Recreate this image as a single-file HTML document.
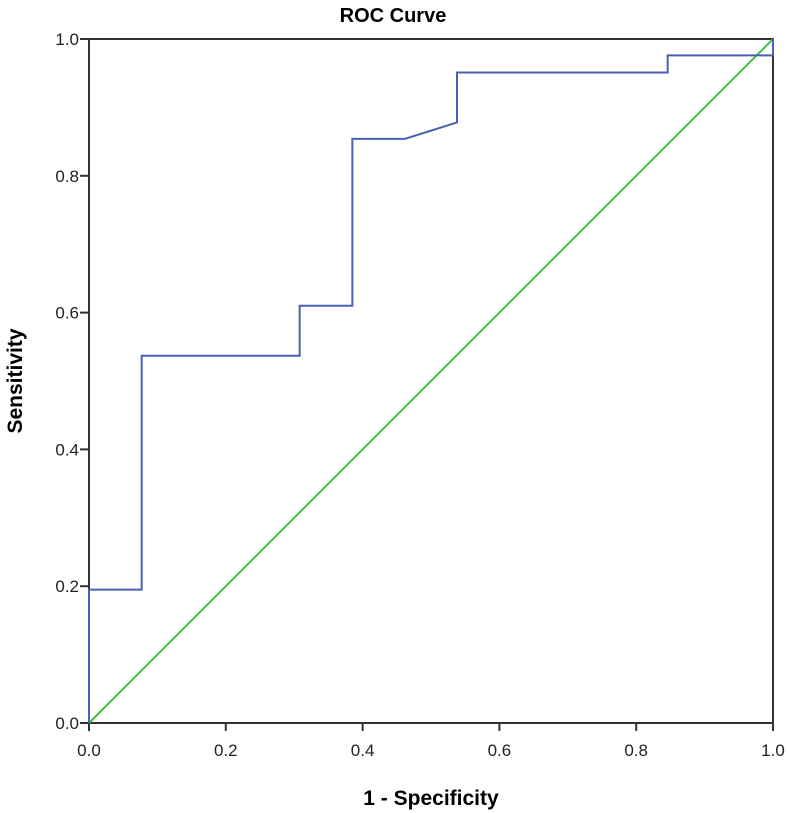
<!DOCTYPE html>
<html><head><meta charset="utf-8"><style>
html,body{margin:0;padding:0;background:#fff;}
svg{display:block;font-family:"Liberation Sans",sans-serif;}
</style></head><body>
<svg id="chart" width="787" height="813"></svg>
<script>
const xTicks=[0,0.2,0.4,0.6,0.8,1.0];
const yTicks=[0,0.2,0.4,0.6,0.8,1.0];
const rocFpr=[0,0,0.077,0.077,0.308,0.308,0.385,0.385,0.462,0.538,0.538,0.846,0.846,1,1];
const rocTpr=[0,0.195,0.195,0.537,0.537,0.61,0.61,0.854,0.854,0.878,0.951,0.951,0.976,0.976,1];
const refX=[0,1];
const refY=[0,1];
const L=89,R=773,T=39,B=723;
const sx=v=>L+v*(R-L), sy=v=>B-v*(B-T);
const svg=document.getElementById('chart');
const NS='http://www.w3.org/2000/svg';
function mk(tag,attrs,parent){const e=document.createElementNS(NS,tag);for(const k in attrs)e.setAttribute(k,attrs[k]);(parent||svg).appendChild(e);return e;}
let t=mk('text',{x:393,y:22,'text-anchor':'middle','font-size':20,'font-weight':'bold',fill:'#000'});t.textContent='ROC Curve';


let fr=mk('rect',{x:L,y:T,width:R-L,height:B-T,fill:'none',stroke:'#333','stroke-width':2});


xTicks.forEach(v=>{
 const g=mk('g',{});
 
 
 mk('line',{x1:sx(v),x2:sx(v),y1:B,y2:B+8,stroke:'#333','stroke-width':2},g);
 const tx=mk('text',{x:sx(v),y:B+33,'text-anchor':'middle','font-size':17,fill:'#222'},g);tx.textContent=v.toFixed(1);
});
yTicks.forEach(v=>{
 const g=mk('g',{});
 
 
 mk('line',{x1:L-9,x2:L,y1:sy(v),y2:sy(v),stroke:'#333','stroke-width':2},g);
 const tx=mk('text',{x:L-10,y:sy(v)+6,'text-anchor':'end','font-size':17,fill:'#222'},g);tx.textContent=v.toFixed(1);
});
let xt=mk('text',{x:431,y:805,'text-anchor':'middle','font-size':21,'font-weight':'bold',fill:'#000'});xt.textContent='1 - Specificity';


let yt=mk('text',{x:0,y:0,transform:'translate(22,381) rotate(-90)','text-anchor':'middle','font-size':21,'font-weight':'bold',fill:'#000'});yt.textContent='Sensitivity';


let ref=mk('polyline',{points:refX.map((x,i)=>sx(x)+','+sy(refY[i])).join(' '),fill:'none',stroke:'#3fbf3f','stroke-width':2});


let roc=mk('polyline',{points:rocFpr.map((x,i)=>sx(x)+','+sy(rocTpr[i])).join(' '),fill:'none',stroke:'#4a5fb5','stroke-width':2});


</script>
</body></html>
